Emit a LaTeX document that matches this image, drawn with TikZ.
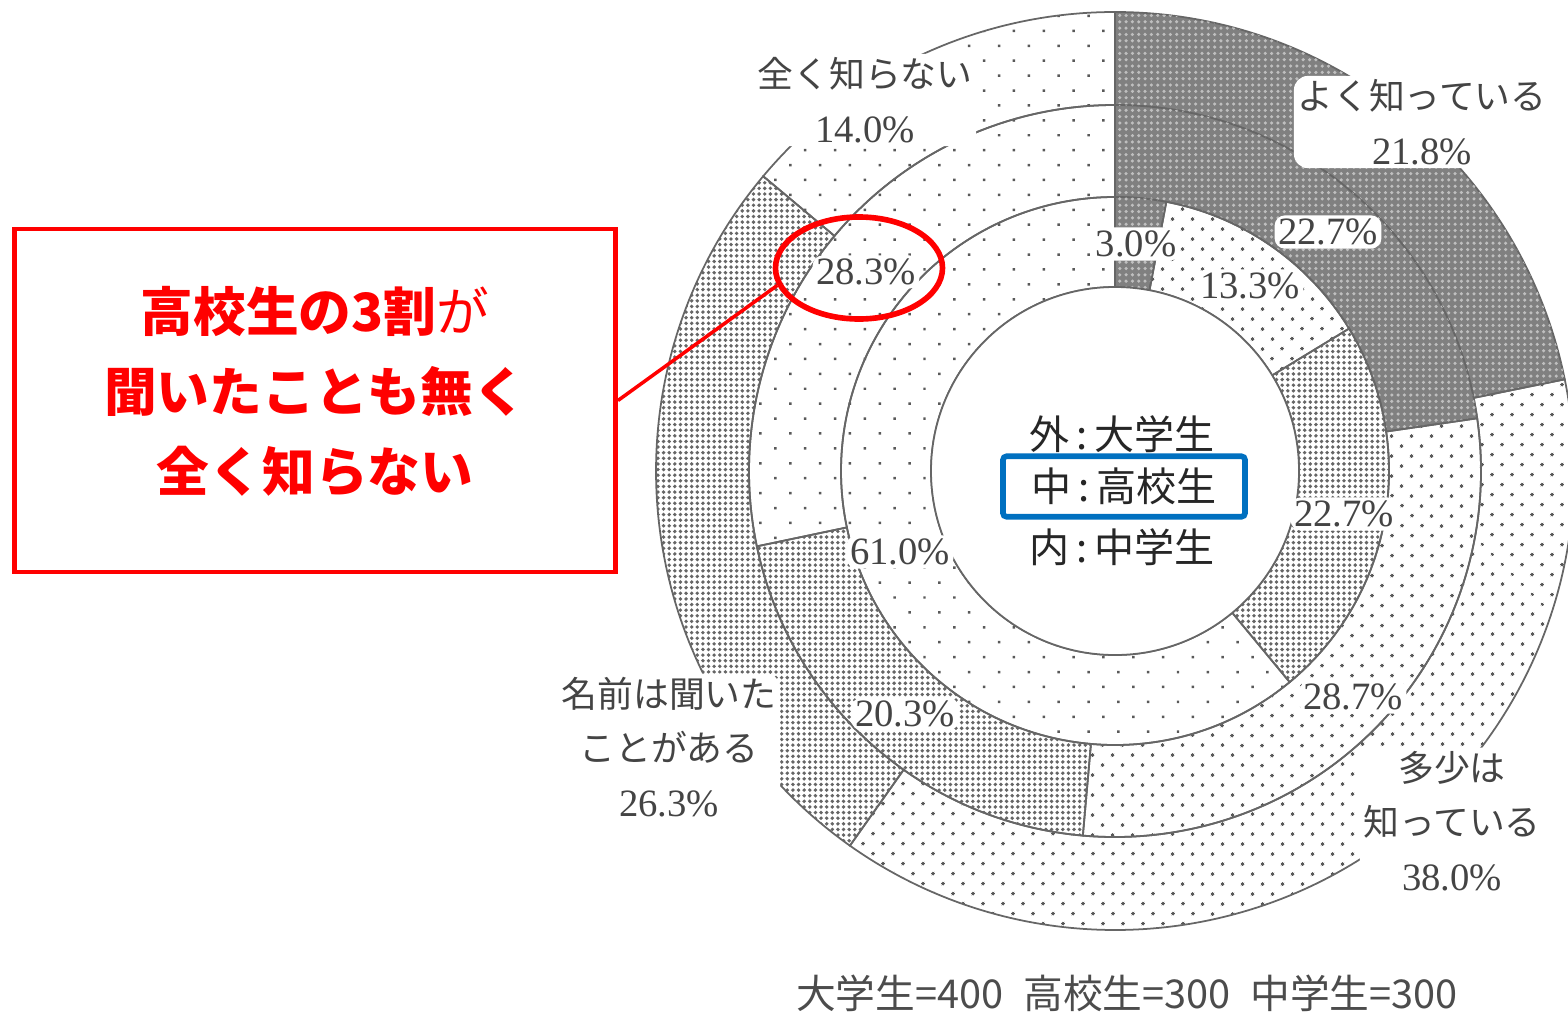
\documentclass[tikz,border=0pt]{standalone}
\usepackage{fontspec}
\newfontfamily\jpfont{Noto Sans CJK JP}
\newfontfamily\numfont{Liberation Serif}
\usetikzlibrary{patterns.meta,shapes.geometric}

\definecolor{calloutred}{RGB}{255,0,0}
\definecolor{keyblue}{RGB}{0,112,192}
\definecolor{labelgray}{RGB}{68,68,68}

\tikzset{
  ringline/.style={draw=black!60, line width=0.5pt},
  yokufill/.style={fill=black!50, postaction={pattern={Dots[distance=1.8pt,radius=0.5pt]}, pattern color=black!25}},
  namaefill/.style={pattern={Dots[distance=1.6pt,radius=0.55pt]}, pattern color=black!60},
  tashoufill/.style={pattern={Dots[distance=4pt,angle=45,radius=0.5pt]}, pattern color=black!65},
  mattakufill/.style={pattern={Dots[distance=6pt,angle=45,radius=0.5pt]}, pattern color=black!65},
  ringlabel/.style={text=labelgray, fill=white, rounded corners=4pt, inner sep=1pt, align=center,
    font=\jpfont\fontsize{10.2}{15.5}\selectfont},
  pct/.style={text=labelgray, fill=white, rounded corners=3pt, inner sep=1pt,
    font=\numfont\fontsize{11}{13}\selectfont},
  keylabel/.style={text=black!85, font=\jpfont\fontsize{11.4}{14}\selectfont},
}

\begin{document}
\begin{tikzpicture}
\useasboundingbox (0,0) rectangle (15.68,10.15);

\begin{scope}[shift={(11.15,5.44)}]
% Outer ring: university students
\foreach \a/\b/\s in {90/11.52/yokufill, 11.52/-125.28/tashoufill, -125.28/-219.96/namaefill, -219.96/-270/mattakufill}
  \draw[ringline,\s] (\a:4.59) arc[start angle=\a, end angle=\b, radius=4.59] -- (\b:3.66) arc[start angle=\b, end angle=\a, radius=3.66] -- cycle;

% Middle ring: high school students
\foreach \a/\b/\s in {90/8.28/yokufill, 8.28/-95.04/tashoufill, -95.04/-168.12/namaefill, -168.12/-270/mattakufill}
  \draw[ringline,\s] (\a:3.66) arc[start angle=\a, end angle=\b, radius=3.66] -- (\b:2.74) arc[start angle=\b, end angle=\a, radius=2.74] -- cycle;

% Inner ring: junior high school students
\foreach \a/\b/\s in {90/79.2/yokufill, 79.2/31.32/tashoufill, 31.32/-50.4/namaefill, -50.4/-270/mattakufill}
  \draw[ringline,\s] (\a:2.74) arc[start angle=\a, end angle=\b, radius=2.74] -- (\b:1.84) arc[start angle=\b, end angle=\a, radius=1.84] -- cycle;

% Hole
\draw[ringline, fill=white] (0,0) circle (1.84);
\end{scope}

% Outer ring labels
\node[ringlabel] (yokuOut) at (14.22,8.93) {よく知っている\\{\numfont\fontsize{11}{15.5}\selectfont 21.8\%}};
\node[ringlabel] (tashouOut) at (14.52,1.94) {多少は\\知っている\\{\numfont\fontsize{11}{15.5}\selectfont 38.0\%}};
\node[ringlabel] (namaeOut) at (6.69,2.68) {名前は聞いた\\ことがある\\{\numfont\fontsize{11}{15.5}\selectfont 26.3\%}};
\node[ringlabel] (mattakuOut) at (8.65,9.15) {全く知らない\\{\numfont\fontsize{11}{15.5}\selectfont 14.0\%}};

% Middle ring values
\node[pct] (yokuMid) at (13.28,7.83) {22.7\%};
\node[pct] (tashouMid) at (13.53,3.18) {28.7\%};
\node[pct] (namaeMid) at (9.05,3.01) {20.3\%};
\node[pct] (mattakuMid) at (8.66,7.43) {28.3\%};

% Inner ring values
\node[pct] (yokuIn) at (11.36,7.71) {3.0\%};
\node[pct] (tashouIn) at (12.50,7.29) {13.3\%};
\node[pct] (namaeIn) at (13.44,5.01) {22.7\%};
\node[pct] (mattakuIn) at (9.00,4.63) {61.0\%};

% Key in the hole
\node[keylabel] (keyOut) at (11.22,5.81) {外\,:\,大学生};
\node[keylabel, draw=keyblue, line width=1.6pt, rounded corners=1pt, minimum width=2.42cm, minimum height=0.59cm] (keyMid) at (11.24,5.285) {中\,:\,高校生};
\node[keylabel] (keyIn) at (11.22,4.68) {内\,:\,中学生};

% Sample sizes
\node[text=black!70, font=\jpfont\fontsize{11.3}{13}\selectfont] (samples) at (11.27,0.22) {大学生=400\enspace 高校生=300\enspace 中学生=300};

% Callout
\node[draw=calloutred, line width=1.4pt, minimum width=6.01cm, minimum height=3.43cm, text=calloutred, align=center,
  font=\jpfont\fontsize{15}{22.8}\selectfont] (callout) at (3.15,6.145)
  {{\bfseries 高校生の3割}が\\{\bfseries 聞いたことも無く}\\{\bfseries 全く知らない}\vspace{5pt}};
\node[ellipse, draw=calloutred, line width=1.6pt, minimum width=1.67cm, minimum height=1.02cm, inner sep=0pt] (ring283) at (8.59,7.47) {};
\draw[calloutred, line width=1pt] (callout.east) -- (ring283.192);
\end{tikzpicture}
\end{document}
